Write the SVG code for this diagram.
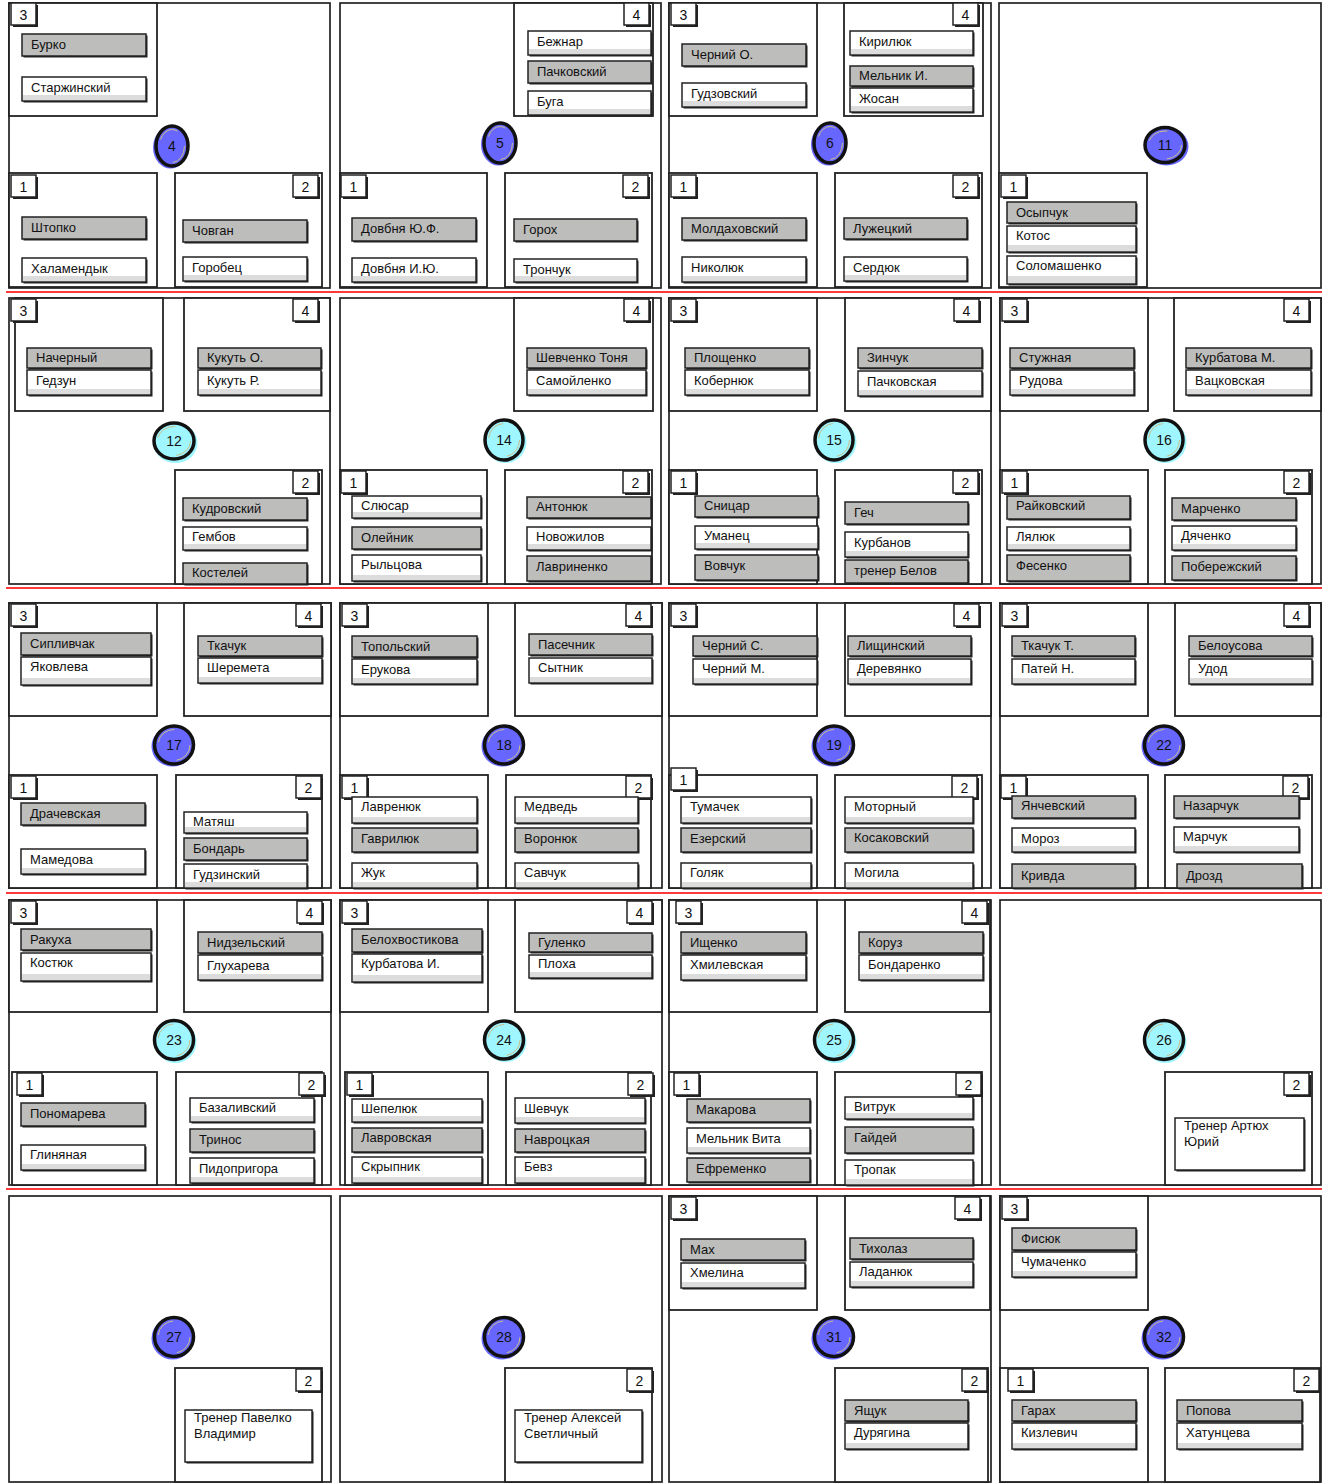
<svg xmlns="http://www.w3.org/2000/svg" xmlns:xlink="http://www.w3.org/1999/xlink" width="1332" height="1484" viewBox="0 0 1332 1484">
<style>
.o{fill:none;stroke:#222;stroke-width:1.7}
.b{fill:#fff;stroke:#222;stroke-width:1.8}
.s{fill:#222}
.w{fill:#fff;stroke:#222;stroke-width:1.5}
.g{fill:#bdbdbc;stroke:#222;stroke-width:1.5}
.st{fill:#dcdcdc}
.t{font-family:"Liberation Sans",Arial,sans-serif;font-size:13px;fill:#111}
.lt{font-family:"Liberation Sans",Arial,sans-serif;font-size:14px;fill:#111;text-anchor:middle}
.ct{font-family:"Liberation Sans",Arial,sans-serif;font-size:14px;fill:#111;text-anchor:middle}
.cb{fill:#6767ff}
.cc{fill:#a0f6ff}
.ring{stroke:#111;stroke-width:3.5}
.hl{fill:none;stroke:#cbbd86;stroke-width:1;stroke-dasharray:22 30}
.r{stroke:#ff3a3a;stroke-width:2}
</style>
<defs>
<g id="lb"><rect x="2" y="2" width="25" height="22" fill="#222"/><rect width="25" height="22" fill="#fff" stroke="#222" stroke-width="1.5"/></g>
</defs>
<rect width="1332" height="1484" fill="#fff"/>
<g id="connectors">
<line class="r" x1="6" y1="292" x2="1322" y2="292"/>
<line class="r" x1="6" y1="588" x2="1322" y2="588"/>
<line class="r" x1="6" y1="893" x2="1322" y2="893"/>
<line class="r" x1="6" y1="1189" x2="1322" y2="1189"/>
</g>

<g id="node-4">
<rect class="o" x="9" y="3" width="321" height="285"/>
<rect class="b" x="9" y="3" width="148" height="113"/>
<rect class="b" x="9" y="173" width="148" height="114"/>
<rect class="b" x="175" y="173" width="147" height="114"/>
<use href="#lb" x="11" y="3"/><text class="lt" x="23.5" y="19.5">3</text>
<use href="#lb" x="11" y="175"/><text class="lt" x="23.5" y="191.5">1</text>
<use href="#lb" x="293" y="175"/><text class="lt" x="305.5" y="191.5">2</text>
<g transform="translate(22,34)"><rect class="s" x="1.5" y="1.5" width="124" height="22"/><rect class="g" width="124" height="22"/><text class="t" x="9" y="15">Бурко</text></g>
<g transform="translate(22,77)"><rect class="s" x="1.5" y="1.5" width="124" height="24"/><rect class="w" width="124" height="24"/><rect class="st" x="1" y="18" width="122" height="5"/><text class="t" x="9" y="15">Старжинский</text></g>
<g transform="translate(22,217)"><rect class="s" x="1.5" y="1.5" width="124" height="22"/><rect class="g" width="124" height="22"/><text class="t" x="9" y="15">Штопко</text></g>
<g transform="translate(22,258)"><rect class="s" x="1.5" y="1.5" width="124" height="24"/><rect class="w" width="124" height="24"/><rect class="st" x="1" y="18" width="122" height="5"/><text class="t" x="9" y="15">Халамендык</text></g>
<g transform="translate(183,220)"><rect class="s" x="1.5" y="1.5" width="124" height="22"/><rect class="g" width="124" height="22"/><text class="t" x="9" y="15">Човган</text></g>
<g transform="translate(183,257)"><rect class="s" x="1.5" y="1.5" width="124" height="24"/><rect class="w" width="124" height="24"/><rect class="st" x="1" y="18" width="122" height="5"/><text class="t" x="9" y="15">Горобец</text></g>
<g transform="translate(172,146)"><ellipse class="cb" cx="-1.5" cy="1.5" rx="17.5" ry="21"/><ellipse class="cb ring" rx="16" ry="20"/><ellipse class="hl" rx="12.5" ry="16.5"/><text class="ct" y="5">4</text></g>
</g>

<g id="node-5">
<rect class="o" x="340" y="3" width="321" height="285"/>
<rect class="b" x="514" y="3" width="139" height="113"/>
<rect class="b" x="340" y="173" width="147" height="114"/>
<rect class="b" x="505" y="173" width="147" height="114"/>
<use href="#lb" x="624" y="3"/><text class="lt" x="636.5" y="19.5">4</text>
<use href="#lb" x="341" y="175"/><text class="lt" x="353.5" y="191.5">1</text>
<use href="#lb" x="623" y="175"/><text class="lt" x="635.5" y="191.5">2</text>
<g transform="translate(528,31)"><rect class="s" x="1.5" y="1.5" width="123" height="24"/><rect class="w" width="123" height="24"/><rect class="st" x="1" y="18" width="121" height="5"/><text class="t" x="9" y="15">Бежнар</text></g>
<g transform="translate(528,61)"><rect class="s" x="1.5" y="1.5" width="123" height="22"/><rect class="g" width="123" height="22"/><text class="t" x="9" y="15">Пачковский</text></g>
<g transform="translate(528,91)"><rect class="s" x="1.5" y="1.5" width="123" height="24"/><rect class="w" width="123" height="24"/><rect class="st" x="1" y="18" width="121" height="5"/><text class="t" x="9" y="15">Буга</text></g>
<g transform="translate(352,218)"><rect class="s" x="1.5" y="1.5" width="124" height="23"/><rect class="g" width="124" height="23"/><text class="t" x="9" y="15">Довбня Ю.Ф.</text></g>
<g transform="translate(352,258)"><rect class="s" x="1.5" y="1.5" width="124" height="24"/><rect class="w" width="124" height="24"/><rect class="st" x="1" y="18" width="122" height="5"/><text class="t" x="9" y="15">Довбня И.Ю.</text></g>
<g transform="translate(514,219)"><rect class="s" x="1.5" y="1.5" width="123" height="22"/><rect class="g" width="123" height="22"/><text class="t" x="9" y="15">Горох</text></g>
<g transform="translate(514,259)"><rect class="s" x="1.5" y="1.5" width="123" height="23"/><rect class="w" width="123" height="23"/><rect class="st" x="1" y="17" width="121" height="5"/><text class="t" x="9" y="15">Трончук</text></g>
<g transform="translate(500,143)"><ellipse class="cb" cx="-1.5" cy="1.5" rx="17.5" ry="21"/><ellipse class="cb ring" rx="16" ry="20"/><ellipse class="hl" rx="12.5" ry="16.5"/><text class="ct" y="5">5</text></g>
</g>

<g id="node-6">
<rect class="o" x="669" y="3" width="322" height="285"/>
<rect class="b" x="669" y="3" width="148" height="113"/>
<rect class="b" x="844" y="3" width="139" height="113"/>
<rect class="b" x="669" y="173" width="148" height="114"/>
<rect class="b" x="835" y="173" width="147" height="114"/>
<use href="#lb" x="671" y="3"/><text class="lt" x="683.5" y="19.5">3</text>
<use href="#lb" x="953" y="3"/><text class="lt" x="965.5" y="19.5">4</text>
<use href="#lb" x="671" y="175"/><text class="lt" x="683.5" y="191.5">1</text>
<use href="#lb" x="953" y="175"/><text class="lt" x="965.5" y="191.5">2</text>
<g transform="translate(682,44)"><rect class="s" x="1.5" y="1.5" width="124" height="22"/><rect class="g" width="124" height="22"/><text class="t" x="9" y="15">Черний О.</text></g>
<g transform="translate(682,83)"><rect class="s" x="1.5" y="1.5" width="124" height="24"/><rect class="w" width="124" height="24"/><rect class="st" x="1" y="18" width="122" height="5"/><text class="t" x="9" y="15">Гудзовский</text></g>
<g transform="translate(850,31)"><rect class="s" x="1.5" y="1.5" width="123" height="24"/><rect class="w" width="123" height="24"/><rect class="st" x="1" y="18" width="121" height="5"/><text class="t" x="9" y="15">Кирилюк</text></g>
<g transform="translate(850,66)"><rect class="s" x="1.5" y="1.5" width="123" height="20"/><rect class="g" width="123" height="20"/><text class="t" x="9" y="14">Мельник И.</text></g>
<g transform="translate(850,88)"><rect class="s" x="1.5" y="1.5" width="123" height="24"/><rect class="w" width="123" height="24"/><rect class="st" x="1" y="18" width="121" height="5"/><text class="t" x="9" y="15">Жосан</text></g>
<g transform="translate(682,218)"><rect class="s" x="1.5" y="1.5" width="124" height="22"/><rect class="g" width="124" height="22"/><text class="t" x="9" y="15">Молдаховский</text></g>
<g transform="translate(682,257)"><rect class="s" x="1.5" y="1.5" width="124" height="25"/><rect class="w" width="124" height="25"/><rect class="st" x="1" y="19" width="122" height="5"/><text class="t" x="9" y="15">Николюк</text></g>
<g transform="translate(844,218)"><rect class="s" x="1.5" y="1.5" width="123" height="21"/><rect class="g" width="123" height="21"/><text class="t" x="9" y="15">Лужецкий</text></g>
<g transform="translate(844,257)"><rect class="s" x="1.5" y="1.5" width="123" height="24"/><rect class="w" width="123" height="24"/><rect class="st" x="1" y="18" width="121" height="5"/><text class="t" x="9" y="15">Сердюк</text></g>
<g transform="translate(830,143)"><ellipse class="cb" cx="-1.5" cy="1.5" rx="17.5" ry="21"/><ellipse class="cb ring" rx="16" ry="20"/><ellipse class="hl" rx="12.5" ry="16.5"/><text class="ct" y="5">6</text></g>
</g>

<g id="node-11">
<rect class="o" x="999" y="3" width="322" height="285"/>
<rect class="b" x="999" y="173" width="148" height="114"/>
<use href="#lb" x="1001" y="175"/><text class="lt" x="1013.5" y="191.5">1</text>
<g transform="translate(1007,202)"><rect class="s" x="1.5" y="1.5" width="129" height="21"/><rect class="g" width="129" height="21"/><text class="t" x="9" y="15">Осыпчук</text></g>
<g transform="translate(1007,226)"><rect class="s" x="1.5" y="1.5" width="129" height="26"/><rect class="w" width="129" height="26"/><rect class="st" x="1" y="19" width="127" height="6"/><text class="t" x="9" y="14">Котос</text></g>
<g transform="translate(1007,256)"><rect class="s" x="1.5" y="1.5" width="129" height="28"/><rect class="w" width="129" height="28"/><rect class="st" x="1" y="20" width="127" height="7"/><text class="t" x="9" y="14">Соломашенко</text></g>
<g transform="translate(1165,145)"><ellipse class="cb" cx="1.5" cy="1.5" rx="22" ry="19"/><ellipse class="cb ring" rx="20" ry="17.5"/><ellipse class="hl" rx="16.5" ry="14"/><text class="ct" y="5">11</text></g>
</g>

<g id="node-12">
<rect class="o" x="9" y="298" width="321" height="286"/>
<rect class="b" x="15" y="298" width="148" height="113"/>
<rect class="b" x="184" y="298" width="146" height="113"/>
<rect class="b" x="175" y="470" width="147" height="114"/>
<use href="#lb" x="11" y="299"/><text class="lt" x="23.5" y="315.5">3</text>
<use href="#lb" x="293" y="299"/><text class="lt" x="305.5" y="315.5">4</text>
<use href="#lb" x="293" y="471"/><text class="lt" x="305.5" y="487.5">2</text>
<g transform="translate(27,348)"><rect class="s" x="1.5" y="1.5" width="124" height="20"/><rect class="g" width="124" height="20"/><text class="t" x="9" y="14">Начерный</text></g>
<g transform="translate(27,370)"><rect class="s" x="1.5" y="1.5" width="124" height="25"/><rect class="w" width="124" height="25"/><rect class="st" x="1" y="19" width="122" height="5"/><text class="t" x="9" y="15">Гедзун</text></g>
<g transform="translate(198,348)"><rect class="s" x="1.5" y="1.5" width="123" height="20"/><rect class="g" width="123" height="20"/><text class="t" x="9" y="14">Кукуть О.</text></g>
<g transform="translate(198,370)"><rect class="s" x="1.5" y="1.5" width="123" height="25"/><rect class="w" width="123" height="25"/><rect class="st" x="1" y="19" width="121" height="5"/><text class="t" x="9" y="15">Кукуть Р.</text></g>
<g transform="translate(183,498)"><rect class="s" x="1.5" y="1.5" width="124" height="22"/><rect class="g" width="124" height="22"/><text class="t" x="9" y="15">Кудровский</text></g>
<g transform="translate(183,527)"><rect class="s" x="1.5" y="1.5" width="124" height="23"/><rect class="w" width="124" height="23"/><rect class="st" x="1" y="17" width="122" height="5"/><text class="t" x="9" y="14">Гембов</text></g>
<g transform="translate(183,563)"><rect class="s" x="1.5" y="1.5" width="124" height="21"/><rect class="g" width="124" height="21"/><text class="t" x="9" y="14">Костелей</text></g>
<g transform="translate(174,441)"><ellipse class="cc" cx="1.5" cy="2" rx="22" ry="20"/><ellipse class="cc ring" rx="20" ry="18"/><ellipse class="hl" rx="16.5" ry="14.5"/><text class="ct" y="5">12</text></g>
</g>

<g id="node-14">
<rect class="o" x="340" y="298" width="321" height="286"/>
<rect class="b" x="514" y="298" width="139" height="113"/>
<rect class="b" x="340" y="470" width="147" height="114"/>
<rect class="b" x="505" y="470" width="147" height="114"/>
<use href="#lb" x="624" y="299"/><text class="lt" x="636.5" y="315.5">4</text>
<use href="#lb" x="341" y="471"/><text class="lt" x="353.5" y="487.5">1</text>
<use href="#lb" x="623" y="471"/><text class="lt" x="635.5" y="487.5">2</text>
<g transform="translate(527,348)"><rect class="s" x="1.5" y="1.5" width="119" height="20"/><rect class="g" width="119" height="20"/><text class="t" x="9" y="14">Шевченко Тоня</text></g>
<g transform="translate(527,370)"><rect class="s" x="1.5" y="1.5" width="119" height="25"/><rect class="w" width="119" height="25"/><rect class="st" x="1" y="19" width="117" height="5"/><text class="t" x="9" y="15">Самойленко</text></g>
<g transform="translate(352,496)"><rect class="s" x="1.5" y="1.5" width="129" height="22"/><rect class="w" width="129" height="22"/><rect class="st" x="1" y="16" width="127" height="5"/><text class="t" x="9" y="14">Слюсар</text></g>
<g transform="translate(352,527)"><rect class="s" x="1.5" y="1.5" width="129" height="22"/><rect class="g" width="129" height="22"/><text class="t" x="9" y="15">Олейник</text></g>
<g transform="translate(352,555)"><rect class="s" x="1.5" y="1.5" width="129" height="26"/><rect class="w" width="129" height="26"/><rect class="st" x="1" y="20" width="127" height="5"/><text class="t" x="9" y="14">Рыльцова</text></g>
<g transform="translate(527,497)"><rect class="s" x="1.5" y="1.5" width="124" height="21"/><rect class="g" width="124" height="21"/><text class="t" x="9" y="14">Антонюк</text></g>
<g transform="translate(527,527)"><rect class="s" x="1.5" y="1.5" width="124" height="23"/><rect class="w" width="124" height="23"/><rect class="st" x="1" y="17" width="122" height="5"/><text class="t" x="9" y="14">Новожилов</text></g>
<g transform="translate(527,556)"><rect class="s" x="1.5" y="1.5" width="124" height="25"/><rect class="g" width="124" height="25"/><text class="t" x="9" y="15">Лавриненко</text></g>
<g transform="translate(504,440)"><ellipse class="cc" cx="1.5" cy="2" rx="21" ry="21"/><ellipse class="cc ring" rx="19" ry="20"/><ellipse class="hl" rx="15.5" ry="16.5"/><text class="ct" y="5">14</text></g>
</g>

<g id="node-15">
<rect class="o" x="669" y="298" width="322" height="286"/>
<rect class="b" x="669" y="298" width="148" height="113"/>
<rect class="b" x="845" y="298" width="146" height="113"/>
<rect class="b" x="669" y="470" width="148" height="114"/>
<rect class="b" x="835" y="470" width="147" height="114"/>
<use href="#lb" x="671" y="299"/><text class="lt" x="683.5" y="315.5">3</text>
<use href="#lb" x="954" y="299"/><text class="lt" x="966.5" y="315.5">4</text>
<use href="#lb" x="671" y="471"/><text class="lt" x="683.5" y="487.5">1</text>
<use href="#lb" x="953" y="471"/><text class="lt" x="965.5" y="487.5">2</text>
<g transform="translate(685,348)"><rect class="s" x="1.5" y="1.5" width="124" height="20"/><rect class="g" width="124" height="20"/><text class="t" x="9" y="14">Площенко</text></g>
<g transform="translate(685,370)"><rect class="s" x="1.5" y="1.5" width="124" height="25"/><rect class="w" width="124" height="25"/><rect class="st" x="1" y="19" width="122" height="5"/><text class="t" x="9" y="15">Кобернюк</text></g>
<g transform="translate(858,348)"><rect class="s" x="1.5" y="1.5" width="124" height="20"/><rect class="g" width="124" height="20"/><text class="t" x="9" y="14">Зинчук</text></g>
<g transform="translate(858,371)"><rect class="s" x="1.5" y="1.5" width="124" height="25"/><rect class="w" width="124" height="25"/><rect class="st" x="1" y="19" width="122" height="5"/><text class="t" x="9" y="15">Пачковская</text></g>
<g transform="translate(695,496)"><rect class="s" x="1.5" y="1.5" width="123" height="21"/><rect class="g" width="123" height="21"/><text class="t" x="9" y="14">Сницар</text></g>
<g transform="translate(695,526)"><rect class="s" x="1.5" y="1.5" width="123" height="23"/><rect class="w" width="123" height="23"/><rect class="st" x="1" y="17" width="121" height="5"/><text class="t" x="9" y="14">Уманец</text></g>
<g transform="translate(695,555)"><rect class="s" x="1.5" y="1.5" width="123" height="25"/><rect class="g" width="123" height="25"/><text class="t" x="9" y="15">Вовчук</text></g>
<g transform="translate(845,502)"><rect class="s" x="1.5" y="1.5" width="123" height="22"/><rect class="g" width="123" height="22"/><text class="t" x="9" y="15">Геч</text></g>
<g transform="translate(845,532)"><rect class="s" x="1.5" y="1.5" width="123" height="25"/><rect class="w" width="123" height="25"/><rect class="st" x="1" y="19" width="121" height="5"/><text class="t" x="9" y="15">Курбанов</text></g>
<g transform="translate(845,560)"><rect class="s" x="1.5" y="1.5" width="123" height="23"/><rect class="g" width="123" height="23"/><text class="t" x="9" y="15">тренер Белов</text></g>
<g transform="translate(834,440)"><ellipse class="cc" cx="1.5" cy="2" rx="21" ry="21"/><ellipse class="cc ring" rx="19" ry="20"/><ellipse class="hl" rx="15.5" ry="16.5"/><text class="ct" y="5">15</text></g>
</g>

<g id="node-16">
<rect class="o" x="1000" y="298" width="321" height="286"/>
<rect class="b" x="1000" y="298" width="148" height="113"/>
<rect class="b" x="1174" y="298" width="147" height="113"/>
<rect class="b" x="1000" y="470" width="148" height="114"/>
<rect class="b" x="1165" y="470" width="147" height="114"/>
<use href="#lb" x="1002" y="299"/><text class="lt" x="1014.5" y="315.5">3</text>
<use href="#lb" x="1284" y="299"/><text class="lt" x="1296.5" y="315.5">4</text>
<use href="#lb" x="1002" y="471"/><text class="lt" x="1014.5" y="487.5">1</text>
<use href="#lb" x="1284" y="471"/><text class="lt" x="1296.5" y="487.5">2</text>
<g transform="translate(1010,348)"><rect class="s" x="1.5" y="1.5" width="124" height="20"/><rect class="g" width="124" height="20"/><text class="t" x="9" y="14">Стужная</text></g>
<g transform="translate(1010,370)"><rect class="s" x="1.5" y="1.5" width="124" height="25"/><rect class="w" width="124" height="25"/><rect class="st" x="1" y="19" width="122" height="5"/><text class="t" x="9" y="15">Рудова</text></g>
<g transform="translate(1186,348)"><rect class="s" x="1.5" y="1.5" width="125" height="20"/><rect class="g" width="125" height="20"/><text class="t" x="9" y="14">Курбатова М.</text></g>
<g transform="translate(1186,370)"><rect class="s" x="1.5" y="1.5" width="125" height="25"/><rect class="w" width="125" height="25"/><rect class="st" x="1" y="19" width="123" height="5"/><text class="t" x="9" y="15">Вацковская</text></g>
<g transform="translate(1007,496)"><rect class="s" x="1.5" y="1.5" width="123" height="23"/><rect class="g" width="123" height="23"/><text class="t" x="9" y="14">Райковский</text></g>
<g transform="translate(1007,527)"><rect class="s" x="1.5" y="1.5" width="123" height="23"/><rect class="w" width="123" height="23"/><rect class="st" x="1" y="17" width="121" height="5"/><text class="t" x="9" y="14">Лялюк</text></g>
<g transform="translate(1007,555)"><rect class="s" x="1.5" y="1.5" width="123" height="26"/><rect class="g" width="123" height="26"/><text class="t" x="9" y="15">Фесенко</text></g>
<g transform="translate(1172,498)"><rect class="s" x="1.5" y="1.5" width="124" height="22"/><rect class="g" width="124" height="22"/><text class="t" x="9" y="15">Марченко</text></g>
<g transform="translate(1172,526)"><rect class="s" x="1.5" y="1.5" width="124" height="24"/><rect class="w" width="124" height="24"/><rect class="st" x="1" y="18" width="122" height="5"/><text class="t" x="9" y="14">Дяченко</text></g>
<g transform="translate(1172,556)"><rect class="s" x="1.5" y="1.5" width="124" height="24"/><rect class="g" width="124" height="24"/><text class="t" x="9" y="15">Побережский</text></g>
<g transform="translate(1164,440)"><ellipse class="cc" cx="1.5" cy="2" rx="21" ry="21"/><ellipse class="cc ring" rx="19" ry="20"/><ellipse class="hl" rx="15.5" ry="16.5"/><text class="ct" y="5">16</text></g>
</g>

<g id="node-17">
<rect class="o" x="9" y="603" width="322" height="285"/>
<rect class="b" x="9" y="603" width="148" height="113"/>
<rect class="b" x="184" y="603" width="147" height="113"/>
<rect class="b" x="9" y="775" width="148" height="113"/>
<rect class="b" x="176" y="775" width="146" height="113"/>
<use href="#lb" x="11" y="604"/><text class="lt" x="23.5" y="620.5">3</text>
<use href="#lb" x="296" y="604"/><text class="lt" x="308.5" y="620.5">4</text>
<use href="#lb" x="11" y="776"/><text class="lt" x="23.5" y="792.5">1</text>
<use href="#lb" x="296" y="776"/><text class="lt" x="308.5" y="792.5">2</text>
<g transform="translate(21,633)"><rect class="s" x="1.5" y="1.5" width="130" height="22"/><rect class="g" width="130" height="22"/><text class="t" x="9" y="15">Сипливчак</text></g>
<g transform="translate(21,657)"><rect class="s" x="1.5" y="1.5" width="130" height="28"/><rect class="w" width="130" height="28"/><rect class="st" x="1" y="21" width="128" height="6"/><text class="t" x="9" y="14">Яковлева</text></g>
<g transform="translate(198,636)"><rect class="s" x="1.5" y="1.5" width="124" height="20"/><rect class="g" width="124" height="20"/><text class="t" x="9" y="14">Ткачук</text></g>
<g transform="translate(198,658)"><rect class="s" x="1.5" y="1.5" width="124" height="25"/><rect class="w" width="124" height="25"/><rect class="st" x="1" y="19" width="122" height="5"/><text class="t" x="9" y="14">Шеремета</text></g>
<g transform="translate(21,803)"><rect class="s" x="1.5" y="1.5" width="124" height="22"/><rect class="g" width="124" height="22"/><text class="t" x="9" y="15">Драчевская</text></g>
<g transform="translate(21,849)"><rect class="s" x="1.5" y="1.5" width="124" height="25"/><rect class="w" width="124" height="25"/><rect class="st" x="1" y="19" width="122" height="5"/><text class="t" x="9" y="15">Мамедова</text></g>
<g transform="translate(184,812)"><rect class="s" x="1.5" y="1.5" width="123" height="21"/><rect class="w" width="123" height="21"/><rect class="st" x="1" y="15" width="121" height="5"/><text class="t" x="9" y="14">Матяш</text></g>
<g transform="translate(184,838)"><rect class="s" x="1.5" y="1.5" width="123" height="22"/><rect class="g" width="123" height="22"/><text class="t" x="9" y="15">Бондарь</text></g>
<g transform="translate(184,864)"><rect class="s" x="1.5" y="1.5" width="123" height="24"/><rect class="w" width="123" height="24"/><rect class="st" x="1" y="18" width="121" height="5"/><text class="t" x="9" y="15">Гудзинский</text></g>
<g transform="translate(174,745)"><ellipse class="cb" cx="-1.5" cy="1.5" rx="21" ry="20"/><ellipse class="cb ring" rx="19.5" ry="19"/><ellipse class="hl" rx="16" ry="15.5"/><text class="ct" y="5">17</text></g>
</g>

<g id="node-18">
<rect class="o" x="340" y="603" width="322" height="285"/>
<rect class="b" x="340" y="603" width="148" height="113"/>
<rect class="b" x="515" y="603" width="147" height="113"/>
<rect class="b" x="340" y="775" width="148" height="113"/>
<rect class="b" x="506" y="775" width="145" height="113"/>
<use href="#lb" x="342" y="604"/><text class="lt" x="354.5" y="620.5">3</text>
<use href="#lb" x="626" y="604"/><text class="lt" x="638.5" y="620.5">4</text>
<use href="#lb" x="342" y="776"/><text class="lt" x="354.5" y="792.5">1</text>
<use href="#lb" x="626" y="776"/><text class="lt" x="638.5" y="792.5">2</text>
<g transform="translate(352,636)"><rect class="s" x="1.5" y="1.5" width="125" height="21"/><rect class="g" width="125" height="21"/><text class="t" x="9" y="15">Топольский</text></g>
<g transform="translate(352,659)"><rect class="s" x="1.5" y="1.5" width="125" height="25"/><rect class="w" width="125" height="25"/><rect class="st" x="1" y="19" width="123" height="5"/><text class="t" x="9" y="15">Ерукова</text></g>
<g transform="translate(529,634)"><rect class="s" x="1.5" y="1.5" width="123" height="21"/><rect class="g" width="123" height="21"/><text class="t" x="9" y="15">Пасечник</text></g>
<g transform="translate(529,658)"><rect class="s" x="1.5" y="1.5" width="123" height="25"/><rect class="w" width="123" height="25"/><rect class="st" x="1" y="19" width="121" height="5"/><text class="t" x="9" y="14">Сытник</text></g>
<g transform="translate(352,797)"><rect class="s" x="1.5" y="1.5" width="125" height="26"/><rect class="w" width="125" height="26"/><rect class="st" x="1" y="20" width="123" height="5"/><text class="t" x="9" y="14">Лавренюк</text></g>
<g transform="translate(352,828)"><rect class="s" x="1.5" y="1.5" width="125" height="24"/><rect class="g" width="125" height="24"/><text class="t" x="9" y="15">Гаврилюк</text></g>
<g transform="translate(352,863)"><rect class="s" x="1.5" y="1.5" width="125" height="25"/><rect class="w" width="125" height="25"/><rect class="st" x="1" y="19" width="123" height="5"/><text class="t" x="9" y="14">Жук</text></g>
<g transform="translate(515,797)"><rect class="s" x="1.5" y="1.5" width="123" height="26"/><rect class="w" width="123" height="26"/><rect class="st" x="1" y="20" width="121" height="5"/><text class="t" x="9" y="14">Медведь</text></g>
<g transform="translate(515,828)"><rect class="s" x="1.5" y="1.5" width="123" height="24"/><rect class="g" width="123" height="24"/><text class="t" x="9" y="15">Воронюк</text></g>
<g transform="translate(515,863)"><rect class="s" x="1.5" y="1.5" width="123" height="25"/><rect class="w" width="123" height="25"/><rect class="st" x="1" y="19" width="121" height="5"/><text class="t" x="9" y="14">Савчук</text></g>
<g transform="translate(504,745)"><ellipse class="cb" cx="-1.5" cy="1.5" rx="21" ry="20"/><ellipse class="cb ring" rx="19.5" ry="19"/><ellipse class="hl" rx="16" ry="15.5"/><text class="ct" y="5">18</text></g>
</g>

<g id="node-19">
<rect class="o" x="669" y="603" width="322" height="285"/>
<rect class="b" x="669" y="603" width="148" height="113"/>
<rect class="b" x="845" y="603" width="146" height="113"/>
<rect class="b" x="669" y="775" width="148" height="113"/>
<rect class="b" x="835" y="775" width="147" height="113"/>
<use href="#lb" x="671" y="604"/><text class="lt" x="683.5" y="620.5">3</text>
<use href="#lb" x="954" y="604"/><text class="lt" x="966.5" y="620.5">4</text>
<use href="#lb" x="671" y="768"/><text class="lt" x="683.5" y="784.5">1</text>
<use href="#lb" x="952" y="776"/><text class="lt" x="964.5" y="792.5">2</text>
<g transform="translate(693,636)"><rect class="s" x="1.5" y="1.5" width="124" height="20"/><rect class="g" width="124" height="20"/><text class="t" x="9" y="14">Черний С.</text></g>
<g transform="translate(693,659)"><rect class="s" x="1.5" y="1.5" width="124" height="25"/><rect class="w" width="124" height="25"/><rect class="st" x="1" y="19" width="122" height="5"/><text class="t" x="9" y="14">Черний М.</text></g>
<g transform="translate(848,636)"><rect class="s" x="1.5" y="1.5" width="123" height="20"/><rect class="g" width="123" height="20"/><text class="t" x="9" y="14">Лищинский</text></g>
<g transform="translate(848,659)"><rect class="s" x="1.5" y="1.5" width="123" height="25"/><rect class="w" width="123" height="25"/><rect class="st" x="1" y="19" width="121" height="5"/><text class="t" x="9" y="14">Деревянко</text></g>
<g transform="translate(681,797)"><rect class="s" x="1.5" y="1.5" width="130" height="26"/><rect class="w" width="130" height="26"/><rect class="st" x="1" y="20" width="128" height="5"/><text class="t" x="9" y="14">Тумачек</text></g>
<g transform="translate(681,828)"><rect class="s" x="1.5" y="1.5" width="130" height="24"/><rect class="g" width="130" height="24"/><text class="t" x="9" y="15">Езерский</text></g>
<g transform="translate(681,863)"><rect class="s" x="1.5" y="1.5" width="130" height="25"/><rect class="w" width="130" height="25"/><rect class="st" x="1" y="19" width="128" height="5"/><text class="t" x="9" y="14">Голяк</text></g>
<g transform="translate(845,797)"><rect class="s" x="1.5" y="1.5" width="128" height="26"/><rect class="w" width="128" height="26"/><rect class="st" x="1" y="20" width="126" height="5"/><text class="t" x="9" y="14">Моторный</text></g>
<g transform="translate(845,828)"><rect class="s" x="1.5" y="1.5" width="128" height="24"/><rect class="g" width="128" height="24"/><text class="t" x="9" y="14">Косаковский</text></g>
<g transform="translate(845,863)"><rect class="s" x="1.5" y="1.5" width="128" height="25"/><rect class="w" width="128" height="25"/><rect class="st" x="1" y="19" width="126" height="5"/><text class="t" x="9" y="14">Могила</text></g>
<g transform="translate(834,745)"><ellipse class="cb" cx="-1.5" cy="1.5" rx="21" ry="20"/><ellipse class="cb ring" rx="19.5" ry="19"/><ellipse class="hl" rx="16" ry="15.5"/><text class="ct" y="5">19</text></g>
</g>

<g id="node-22">
<rect class="o" x="1000" y="603" width="321" height="285"/>
<rect class="b" x="1000" y="603" width="148" height="113"/>
<rect class="b" x="1175" y="603" width="146" height="113"/>
<rect class="b" x="1000" y="775" width="148" height="113"/>
<rect class="b" x="1165" y="775" width="147" height="113"/>
<use href="#lb" x="1002" y="604"/><text class="lt" x="1014.5" y="620.5">3</text>
<use href="#lb" x="1284" y="604"/><text class="lt" x="1296.5" y="620.5">4</text>
<use href="#lb" x="1001" y="776"/><text class="lt" x="1013.5" y="792.5">1</text>
<use href="#lb" x="1283" y="776"/><text class="lt" x="1295.5" y="792.5">2</text>
<g transform="translate(1012,636)"><rect class="s" x="1.5" y="1.5" width="123" height="20"/><rect class="g" width="123" height="20"/><text class="t" x="9" y="14">Ткачук Т.</text></g>
<g transform="translate(1012,659)"><rect class="s" x="1.5" y="1.5" width="123" height="25"/><rect class="w" width="123" height="25"/><rect class="st" x="1" y="19" width="121" height="5"/><text class="t" x="9" y="14">Патей Н.</text></g>
<g transform="translate(1189,636)"><rect class="s" x="1.5" y="1.5" width="123" height="20"/><rect class="g" width="123" height="20"/><text class="t" x="9" y="14">Белоусова</text></g>
<g transform="translate(1189,659)"><rect class="s" x="1.5" y="1.5" width="123" height="25"/><rect class="w" width="123" height="25"/><rect class="st" x="1" y="19" width="121" height="5"/><text class="t" x="9" y="14">Удод</text></g>
<g transform="translate(1012,796)"><rect class="s" x="1.5" y="1.5" width="123" height="22"/><rect class="g" width="123" height="22"/><text class="t" x="9" y="14">Янчевский</text></g>
<g transform="translate(1012,828)"><rect class="s" x="1.5" y="1.5" width="123" height="24"/><rect class="w" width="123" height="24"/><rect class="st" x="1" y="18" width="121" height="5"/><text class="t" x="9" y="15">Мороз</text></g>
<g transform="translate(1012,864)"><rect class="s" x="1.5" y="1.5" width="123" height="24"/><rect class="g" width="123" height="24"/><text class="t" x="9" y="16">Кривда</text></g>
<g transform="translate(1174,796)"><rect class="s" x="1.5" y="1.5" width="125" height="22"/><rect class="g" width="125" height="22"/><text class="t" x="9" y="14">Назарчук</text></g>
<g transform="translate(1174,827)"><rect class="s" x="1.5" y="1.5" width="125" height="25"/><rect class="w" width="125" height="25"/><rect class="st" x="1" y="19" width="123" height="5"/><text class="t" x="9" y="14">Марчук</text></g>
<g transform="translate(1177,864)"><rect class="s" x="1.5" y="1.5" width="125" height="24"/><rect class="g" width="125" height="24"/><text class="t" x="9" y="16">Дрозд</text></g>
<g transform="translate(1164,745)"><ellipse class="cb" cx="-1.5" cy="1.5" rx="21" ry="20"/><ellipse class="cb ring" rx="19.5" ry="19"/><ellipse class="hl" rx="16" ry="15.5"/><text class="ct" y="5">22</text></g>
</g>

<g id="node-23">
<rect class="o" x="9" y="900" width="322" height="285"/>
<rect class="b" x="9" y="900" width="148" height="112"/>
<rect class="b" x="184" y="900" width="147" height="112"/>
<rect class="b" x="12" y="1072" width="145" height="113"/>
<rect class="b" x="176" y="1072" width="146" height="113"/>
<use href="#lb" x="11" y="901"/><text class="lt" x="23.5" y="917.5">3</text>
<use href="#lb" x="297" y="901"/><text class="lt" x="309.5" y="917.5">4</text>
<use href="#lb" x="17" y="1073"/><text class="lt" x="29.5" y="1089.5">1</text>
<use href="#lb" x="299" y="1073"/><text class="lt" x="311.5" y="1089.5">2</text>
<g transform="translate(21,929)"><rect class="s" x="1.5" y="1.5" width="130" height="21"/><rect class="g" width="130" height="21"/><text class="t" x="9" y="15">Ракуха</text></g>
<g transform="translate(21,953)"><rect class="s" x="1.5" y="1.5" width="130" height="28"/><rect class="w" width="130" height="28"/><rect class="st" x="1" y="21" width="128" height="6"/><text class="t" x="9" y="14">Костюк</text></g>
<g transform="translate(198,932)"><rect class="s" x="1.5" y="1.5" width="124" height="21"/><rect class="g" width="124" height="21"/><text class="t" x="9" y="15">Нидзельский</text></g>
<g transform="translate(198,955)"><rect class="s" x="1.5" y="1.5" width="124" height="25"/><rect class="w" width="124" height="25"/><rect class="st" x="1" y="19" width="122" height="5"/><text class="t" x="9" y="15">Глухарева</text></g>
<g transform="translate(21,1103)"><rect class="s" x="1.5" y="1.5" width="124" height="23"/><rect class="g" width="124" height="23"/><text class="t" x="9" y="15">Пономарева</text></g>
<g transform="translate(21,1145)"><rect class="s" x="1.5" y="1.5" width="124" height="25"/><rect class="w" width="124" height="25"/><rect class="st" x="1" y="19" width="122" height="5"/><text class="t" x="9" y="14">Глиняная</text></g>
<g transform="translate(190,1098)"><rect class="s" x="1.5" y="1.5" width="124" height="24"/><rect class="w" width="124" height="24"/><rect class="st" x="1" y="18" width="122" height="5"/><text class="t" x="9" y="14">Базаливский</text></g>
<g transform="translate(190,1129)"><rect class="s" x="1.5" y="1.5" width="124" height="23"/><rect class="g" width="124" height="23"/><text class="t" x="9" y="15">Тринос</text></g>
<g transform="translate(190,1158)"><rect class="s" x="1.5" y="1.5" width="124" height="25"/><rect class="w" width="124" height="25"/><rect class="st" x="1" y="19" width="122" height="5"/><text class="t" x="9" y="15">Пидопригора</text></g>
<g transform="translate(174,1040)"><ellipse class="cc" cx="1.5" cy="2" rx="21" ry="21"/><ellipse class="cc ring" rx="19.5" ry="19.5"/><ellipse class="hl" rx="16" ry="16"/><text class="ct" y="5">23</text></g>
</g>

<g id="node-24">
<rect class="o" x="340" y="900" width="322" height="285"/>
<rect class="b" x="340" y="900" width="148" height="112"/>
<rect class="b" x="515" y="900" width="147" height="112"/>
<rect class="b" x="345" y="1072" width="143" height="113"/>
<rect class="b" x="506" y="1072" width="145" height="113"/>
<use href="#lb" x="342" y="901"/><text class="lt" x="354.5" y="917.5">3</text>
<use href="#lb" x="627" y="901"/><text class="lt" x="639.5" y="917.5">4</text>
<use href="#lb" x="347" y="1073"/><text class="lt" x="359.5" y="1089.5">1</text>
<use href="#lb" x="628" y="1073"/><text class="lt" x="640.5" y="1089.5">2</text>
<g transform="translate(352,929)"><rect class="s" x="1.5" y="1.5" width="130" height="23"/><rect class="g" width="130" height="23"/><text class="t" x="9" y="15">Белохвостикова</text></g>
<g transform="translate(352,954)"><rect class="s" x="1.5" y="1.5" width="130" height="28"/><rect class="w" width="130" height="28"/><rect class="st" x="1" y="21" width="128" height="6"/><text class="t" x="9" y="14">Курбатова И.</text></g>
<g transform="translate(529,933)"><rect class="s" x="1.5" y="1.5" width="123" height="19"/><rect class="g" width="123" height="19"/><text class="t" x="9" y="14">Гуленко</text></g>
<g transform="translate(529,955)"><rect class="s" x="1.5" y="1.5" width="123" height="23"/><rect class="w" width="123" height="23"/><rect class="st" x="1" y="17" width="121" height="5"/><text class="t" x="9" y="13">Плоха</text></g>
<g transform="translate(352,1099)"><rect class="s" x="1.5" y="1.5" width="130" height="23"/><rect class="w" width="130" height="23"/><rect class="st" x="1" y="17" width="128" height="5"/><text class="t" x="9" y="14">Шепелюк</text></g>
<g transform="translate(352,1128)"><rect class="s" x="1.5" y="1.5" width="130" height="24"/><rect class="g" width="130" height="24"/><text class="t" x="9" y="14">Лавровская</text></g>
<g transform="translate(352,1157)"><rect class="s" x="1.5" y="1.5" width="130" height="26"/><rect class="w" width="130" height="26"/><rect class="st" x="1" y="20" width="128" height="5"/><text class="t" x="9" y="14">Скрыпник</text></g>
<g transform="translate(515,1098)"><rect class="s" x="1.5" y="1.5" width="130" height="25"/><rect class="w" width="130" height="25"/><rect class="st" x="1" y="19" width="128" height="5"/><text class="t" x="9" y="15">Шевчук</text></g>
<g transform="translate(515,1129)"><rect class="s" x="1.5" y="1.5" width="130" height="23"/><rect class="g" width="130" height="23"/><text class="t" x="9" y="15">Навроцкая</text></g>
<g transform="translate(515,1157)"><rect class="s" x="1.5" y="1.5" width="130" height="26"/><rect class="w" width="130" height="26"/><rect class="st" x="1" y="20" width="128" height="5"/><text class="t" x="9" y="14">Бевз</text></g>
<g transform="translate(504,1040)"><ellipse class="cc" cx="1.5" cy="2" rx="21" ry="20"/><ellipse class="cc ring" rx="19.5" ry="19"/><ellipse class="hl" rx="16" ry="15.5"/><text class="ct" y="5">24</text></g>
</g>

<g id="node-25">
<rect class="o" x="669" y="900" width="322" height="285"/>
<rect class="b" x="669" y="900" width="148" height="112"/>
<rect class="b" x="845" y="900" width="145" height="112"/>
<rect class="b" x="669" y="1072" width="148" height="113"/>
<rect class="b" x="835" y="1072" width="147" height="113"/>
<use href="#lb" x="676" y="901"/><text class="lt" x="688.5" y="917.5">3</text>
<use href="#lb" x="962" y="901"/><text class="lt" x="974.5" y="917.5">4</text>
<use href="#lb" x="674" y="1073"/><text class="lt" x="686.5" y="1089.5">1</text>
<use href="#lb" x="956" y="1073"/><text class="lt" x="968.5" y="1089.5">2</text>
<g transform="translate(681,932)"><rect class="s" x="1.5" y="1.5" width="125" height="21"/><rect class="g" width="125" height="21"/><text class="t" x="9" y="15">Ищенко</text></g>
<g transform="translate(681,955)"><rect class="s" x="1.5" y="1.5" width="125" height="25"/><rect class="w" width="125" height="25"/><rect class="st" x="1" y="19" width="123" height="5"/><text class="t" x="9" y="14">Хмилевская</text></g>
<g transform="translate(859,932)"><rect class="s" x="1.5" y="1.5" width="124" height="21"/><rect class="g" width="124" height="21"/><text class="t" x="9" y="15">Коруз</text></g>
<g transform="translate(859,955)"><rect class="s" x="1.5" y="1.5" width="124" height="25"/><rect class="w" width="124" height="25"/><rect class="st" x="1" y="19" width="122" height="5"/><text class="t" x="9" y="14">Бондаренко</text></g>
<g transform="translate(687,1099)"><rect class="s" x="1.5" y="1.5" width="123" height="23"/><rect class="g" width="123" height="23"/><text class="t" x="9" y="15">Макарова</text></g>
<g transform="translate(687,1128)"><rect class="s" x="1.5" y="1.5" width="123" height="25"/><rect class="w" width="123" height="25"/><rect class="st" x="1" y="19" width="121" height="5"/><text class="t" x="9" y="15">Мельник Вита</text></g>
<g transform="translate(687,1158)"><rect class="s" x="1.5" y="1.5" width="123" height="24"/><rect class="g" width="123" height="24"/><text class="t" x="9" y="15">Ефременко</text></g>
<g transform="translate(845,1097)"><rect class="s" x="1.5" y="1.5" width="128" height="22"/><rect class="w" width="128" height="22"/><rect class="st" x="1" y="16" width="126" height="5"/><text class="t" x="9" y="14">Витрук</text></g>
<g transform="translate(845,1127)"><rect class="s" x="1.5" y="1.5" width="128" height="26"/><rect class="g" width="128" height="26"/><text class="t" x="9" y="15">Гайдей</text></g>
<g transform="translate(845,1160)"><rect class="s" x="1.5" y="1.5" width="128" height="25"/><rect class="w" width="128" height="25"/><rect class="st" x="1" y="19" width="126" height="5"/><text class="t" x="9" y="14">Тропак</text></g>
<g transform="translate(834,1040)"><ellipse class="cc" cx="1.5" cy="2" rx="21" ry="21"/><ellipse class="cc ring" rx="19.5" ry="19.5"/><ellipse class="hl" rx="16" ry="16"/><text class="ct" y="5">25</text></g>
</g>

<g id="node-26">
<rect class="o" x="1000" y="900" width="321" height="285"/>
<rect class="b" x="1165" y="1072" width="147" height="113"/>
<use href="#lb" x="1284" y="1073"/><text class="lt" x="1296.5" y="1089.5">2</text>
<g transform="translate(1175,1118)"><rect class="s" x="1.5" y="1.5" width="129" height="52"/><rect class="w" width="129" height="52"/><text class="t" x="9" y="12">Тренер Артюх</text><text class="t" x="9" y="28">Юрий</text></g>
<g transform="translate(1164,1040)"><ellipse class="cc" cx="1.5" cy="2" rx="21" ry="21"/><ellipse class="cc ring" rx="19.5" ry="19.5"/><ellipse class="hl" rx="16" ry="16"/><text class="ct" y="5">26</text></g>
</g>

<g id="node-27">
<rect class="o" x="9" y="1196" width="322" height="286"/>
<rect class="b" x="175" y="1368" width="147" height="114"/>
<use href="#lb" x="296" y="1369"/><text class="lt" x="308.5" y="1385.5">2</text>
<g transform="translate(185,1410)"><rect class="s" x="1.5" y="1.5" width="127" height="52"/><rect class="w" width="127" height="52"/><text class="t" x="9" y="12">Тренер Павелко</text><text class="t" x="9" y="28">Владимир</text></g>
<g transform="translate(174,1337)"><ellipse class="cb" cx="-1.5" cy="1.5" rx="21" ry="21"/><ellipse class="cb ring" rx="19.5" ry="19.5"/><ellipse class="hl" rx="16" ry="16"/><text class="ct" y="5">27</text></g>
</g>

<g id="node-28">
<rect class="o" x="340" y="1196" width="322" height="286"/>
<rect class="b" x="505" y="1368" width="147" height="114"/>
<use href="#lb" x="627" y="1369"/><text class="lt" x="639.5" y="1385.5">2</text>
<g transform="translate(515,1410)"><rect class="s" x="1.5" y="1.5" width="127" height="52"/><rect class="w" width="127" height="52"/><text class="t" x="9" y="12">Тренер Алексей</text><text class="t" x="9" y="28">Светличный</text></g>
<g transform="translate(504,1337)"><ellipse class="cb" cx="-1.5" cy="1.5" rx="21" ry="21"/><ellipse class="cb ring" rx="19.5" ry="19.5"/><ellipse class="hl" rx="16" ry="16"/><text class="ct" y="5">28</text></g>
</g>

<g id="node-31">
<rect class="o" x="669" y="1196" width="322" height="286"/>
<rect class="b" x="669" y="1196" width="148" height="114"/>
<rect class="b" x="845" y="1196" width="145" height="114"/>
<rect class="b" x="835" y="1368" width="153" height="114"/>
<use href="#lb" x="671" y="1197"/><text class="lt" x="683.5" y="1213.5">3</text>
<use href="#lb" x="955" y="1197"/><text class="lt" x="967.5" y="1213.5">4</text>
<use href="#lb" x="962" y="1369"/><text class="lt" x="974.5" y="1385.5">2</text>
<g transform="translate(681,1239)"><rect class="s" x="1.5" y="1.5" width="124" height="21"/><rect class="g" width="124" height="21"/><text class="t" x="9" y="15">Мах</text></g>
<g transform="translate(681,1263)"><rect class="s" x="1.5" y="1.5" width="124" height="25"/><rect class="w" width="124" height="25"/><rect class="st" x="1" y="19" width="122" height="5"/><text class="t" x="9" y="14">Хмелина</text></g>
<g transform="translate(850,1238)"><rect class="s" x="1.5" y="1.5" width="123" height="21"/><rect class="g" width="123" height="21"/><text class="t" x="9" y="15">Тихолаз</text></g>
<g transform="translate(850,1262)"><rect class="s" x="1.5" y="1.5" width="123" height="25"/><rect class="w" width="123" height="25"/><rect class="st" x="1" y="19" width="121" height="5"/><text class="t" x="9" y="14">Ладанюк</text></g>
<g transform="translate(845,1400)"><rect class="s" x="1.5" y="1.5" width="123" height="21"/><rect class="g" width="123" height="21"/><text class="t" x="9" y="15">Ящук</text></g>
<g transform="translate(845,1423)"><rect class="s" x="1.5" y="1.5" width="123" height="26"/><rect class="w" width="123" height="26"/><rect class="st" x="1" y="20" width="121" height="5"/><text class="t" x="9" y="14">Дурягина</text></g>
<g transform="translate(834,1337)"><ellipse class="cb" cx="-1.5" cy="1.5" rx="21" ry="21"/><ellipse class="cb ring" rx="19.5" ry="19.5"/><ellipse class="hl" rx="16" ry="16"/><text class="ct" y="5">31</text></g>
</g>

<g id="node-32">
<rect class="o" x="1000" y="1196" width="321" height="286"/>
<rect class="b" x="1000" y="1196" width="148" height="114"/>
<rect class="b" x="1000" y="1368" width="148" height="114"/>
<rect class="b" x="1165" y="1368" width="155" height="114"/>
<use href="#lb" x="1002" y="1197"/><text class="lt" x="1014.5" y="1213.5">3</text>
<use href="#lb" x="1008" y="1369"/><text class="lt" x="1020.5" y="1385.5">1</text>
<use href="#lb" x="1294" y="1369"/><text class="lt" x="1306.5" y="1385.5">2</text>
<g transform="translate(1012,1228)"><rect class="s" x="1.5" y="1.5" width="124" height="22"/><rect class="g" width="124" height="22"/><text class="t" x="9" y="15">Фисюк</text></g>
<g transform="translate(1012,1252)"><rect class="s" x="1.5" y="1.5" width="124" height="25"/><rect class="w" width="124" height="25"/><rect class="st" x="1" y="19" width="122" height="5"/><text class="t" x="9" y="14">Чумаченко</text></g>
<g transform="translate(1012,1400)"><rect class="s" x="1.5" y="1.5" width="124" height="21"/><rect class="g" width="124" height="21"/><text class="t" x="9" y="15">Гарах</text></g>
<g transform="translate(1012,1423)"><rect class="s" x="1.5" y="1.5" width="124" height="26"/><rect class="w" width="124" height="26"/><rect class="st" x="1" y="20" width="122" height="5"/><text class="t" x="9" y="14">Кизлевич</text></g>
<g transform="translate(1177,1400)"><rect class="s" x="1.5" y="1.5" width="125" height="21"/><rect class="g" width="125" height="21"/><text class="t" x="9" y="15">Попова</text></g>
<g transform="translate(1177,1423)"><rect class="s" x="1.5" y="1.5" width="125" height="26"/><rect class="w" width="125" height="26"/><rect class="st" x="1" y="20" width="123" height="5"/><text class="t" x="9" y="14">Хатунцева</text></g>
<g transform="translate(1164,1337)"><ellipse class="cb" cx="-1.5" cy="1.5" rx="21" ry="21"/><ellipse class="cb ring" rx="19.5" ry="19.5"/><ellipse class="hl" rx="16" ry="16"/><text class="ct" y="5">32</text></g>
</g>
</svg>
